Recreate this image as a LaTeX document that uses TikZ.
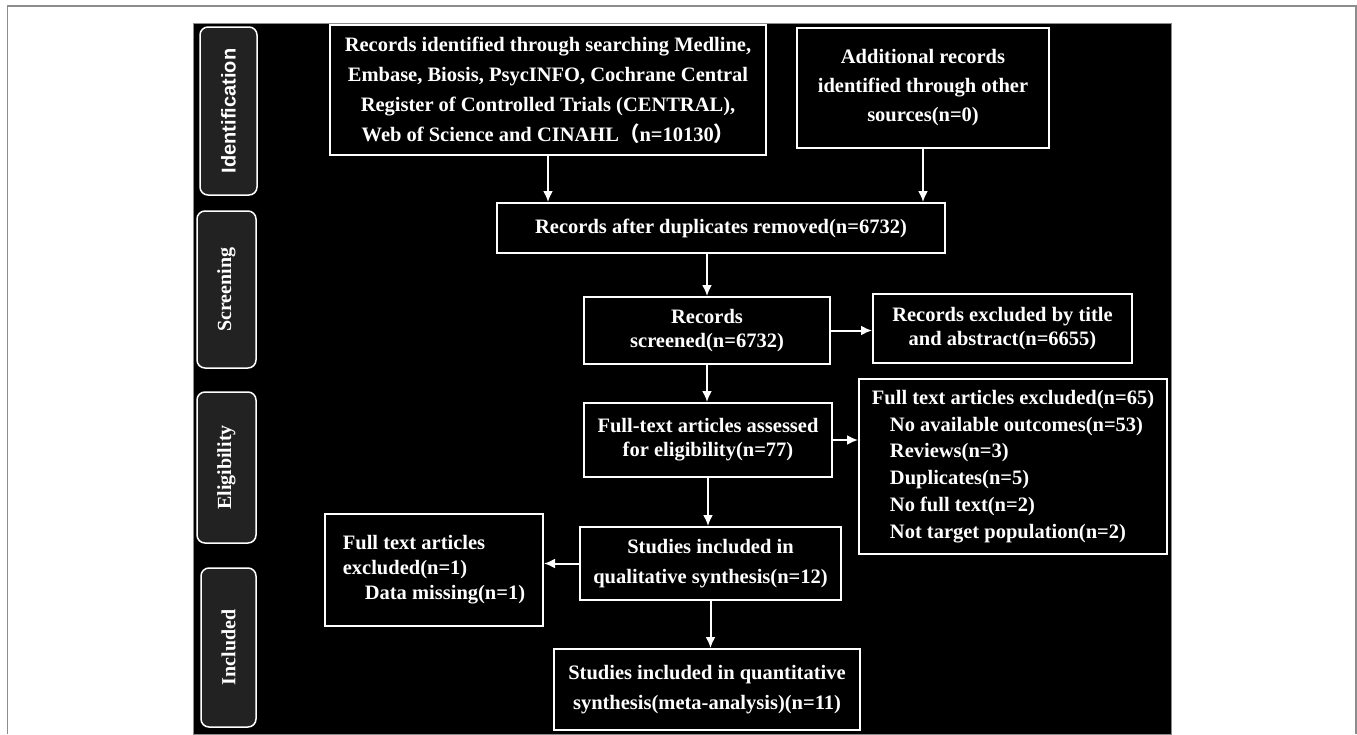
\documentclass[tikz,border=0pt]{standalone}
\usepackage{fontspec}
\setmainfont{Liberation Serif}
\setsansfont{Liberation Sans}
\newfontfamily\cjk{Noto Sans CJK SC}
\usepackage{tikz}
\usetikzlibrary{arrows.meta,positioning}
\definecolor{framegray}{gray}{0.55}
\definecolor{stagegray}{HTML}{222222}
\tikzstyle{stage}=[rectangle,rounded corners=8pt,draw=white,line width=1.5pt,fill=stagegray,text=white,rotate=90,inner sep=0pt,font=\bfseries\fontsize{20}{24}\selectfont]
\tikzstyle{record}=[rectangle,draw=white,line width=2pt,text=white,align=center,inner sep=0pt,font=\bfseries\fontsize{20.5}{30}\selectfont]
\tikzstyle{tight}=[font=\bfseries\fontsize{20.5}{24}\selectfont]
\tikzstyle{flow}=[->,draw=white,line width=2pt]

\begin{document}
\begin{tikzpicture}[x=1pt,y=-1pt,>={Latex[length=11pt,width=10pt]}]
	\useasboundingbox (0,0) rectangle (1357,734);
	\draw[framegray,line width=1.2pt] (7.5,734) -- (7.5,6) -- (1356,6) -- (1356,734);
	\filldraw[fill=black,draw=framegray,line width=1pt] (193,23) rectangle (1171,734);

	% fases
	\node[stage,minimum width=168pt,minimum height=57pt]	(iden)	at (228.5,111)	{\sffamily Identification};
	\node[stage,minimum width=157pt,minimum height=59pt]	(scree)	at (226.5,289.5)	{Screening};
	\node[stage,minimum width=151pt,minimum height=59pt]	(elig)	at (226.5,467.5)	{Eligibility};
	\node[stage,minimum width=159pt,minimum height=55pt]	(incl)	at (228.5,647.5)	{Included};

	% registros
	\node[record,minimum width=436pt,minimum height=130pt]
		(busq)	at (548,90)	{Records identified through searching Medline,\\Embase, Biosis, PsycINFO, Cochrane Central\\Register of Controlled Trials (CENTRAL),\\Web of Science and CINAHL{\cjk （}n=10130{\cjk ）}};
	\node[record,font=\bfseries\fontsize{20.5}{29}\selectfont,minimum width=252pt,minimum height=120pt]
		(otras)	at (923,88)	{Additional records\\identified through other\\sources(n=0)};
	\node[record,minimum width=448pt,minimum height=50pt]
		(dupl)	at (721,228)	{Records after duplicates removed(n=6732)};
	\node[record,tight,minimum width=246pt,minimum height=67pt]
		(cribado)	at (707,330.5)	{Records\\screened(n=6732)};
	\node[record,tight,minimum width=259pt,minimum height=69pt]
		(excl1)	at (1002.5,328.5)	{Records excluded by title\\and abstract(n=6655)};
	\node[record,tight,minimum width=248pt,minimum height=74pt]
		(texto)	at (708,440)	{Full-text articles assessed\\for eligibility(n=77)};
	\node[record,align=left,font=\bfseries\fontsize{20.5}{26.8}\selectfont,minimum width=308pt,minimum height=175pt]
		(excl2)	at (1013,466.5)	{Full text articles excluded(n=65)\\\hspace*{18pt}No available outcomes(n=53)\\\hspace*{18pt}Reviews(n=3)\\\hspace*{18pt}Duplicates(n=5)\\\hspace*{18pt}No full text(n=2)\\\hspace*{18pt}Not target population(n=2)};
	\node[record,align=left,font=\bfseries\fontsize{20.5}{25}\selectfont,minimum width=218pt,minimum height=112pt]
		(perd)	at (434,570)	{Full text articles\\excluded(n=1)\\\hspace*{22pt}Data missing(n=1)};
	\node[record,minimum width=261pt,minimum height=73pt]
		(cual)	at (710.5,563.5)	{Studies included in\\qualitative synthesis(n=12)};
	\node[record,minimum width=306pt,minimum height=81pt]
		(cuant)	at (707,689.5)	{Studies included in quantitative\\synthesis(meta-analysis)(n=11)};

	% flechas
	\draw[flow]	(busq) -- (dupl.north -| busq);
	\draw[flow]	(otras) -- (dupl.north -| otras);
	\draw[flow]	(dupl.south -| cribado) -- (cribado);
	\draw[flow]	(cribado) -- (cribado -| excl1.west);
	\draw[flow]	(cribado) -- (cribado |- texto.north);
	\draw[flow]	(texto) -- (texto -| excl2.west);
	\draw[flow]	(texto) -- (texto |- cual.north);
	\draw[flow]	(cual) -- (cual -| perd.east);
	\draw[flow]	(cual) -- (cual |- cuant.north);
\end{tikzpicture}
\end{document}
